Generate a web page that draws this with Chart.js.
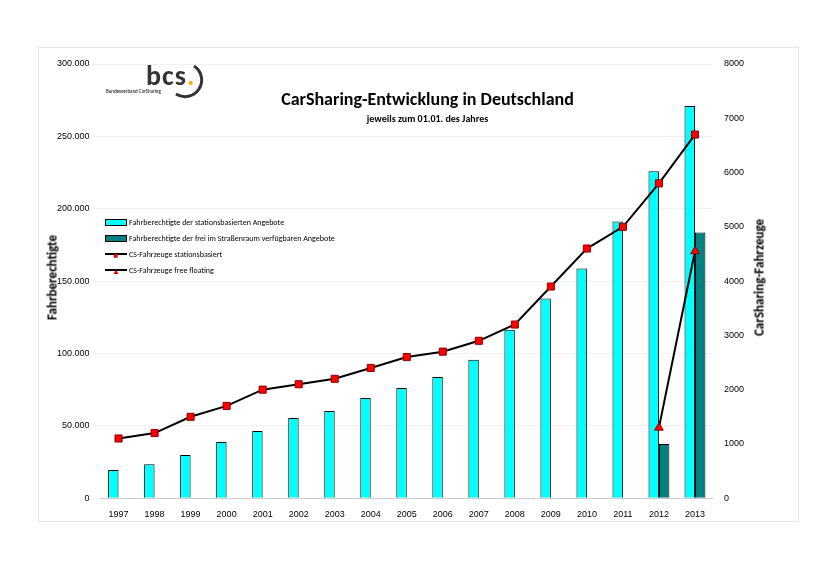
<!DOCTYPE html>
<html>
<head>
<meta charset="utf-8">
<script src="https://cdn.jsdelivr.net/npm/chart.js@4"></script>
<style>
body { margin: 0; background: #fff; font-family: Calibri, Carlito, "Liberation Sans", sans-serif; }
#frame { position: absolute; left: 38px; top: 47px; width: 759px; height: 473px; border: 1px solid #e6e6e6; }
#wrap { position: absolute; left: 40px; top: 50px; width: 760px; height: 473px; }
#title { position: absolute; left: 240px; top: 88px; width: 375px; text-align: center; font-size: 18px; font-weight: bold; }
#sub { position: absolute; left: 240px; top: 112px; width: 375px; text-align: center; font-size: 10px; font-weight: bold; }
#logo { position: absolute; left: 106px; top: 62px; }
#logo .b { font-size: 28px; font-weight: bold; color: #333; position: absolute; left: 40px; top: -4px; letter-spacing: 1px; }
#logo .s { font-size: 5px; position: absolute; left: 0; top: 26px; white-space: nowrap; }
#legend { position: absolute; left: 105px; top: 214px; font-size: 8px; }
#legend div { height: 16px; display: flex; align-items: center; }
.sw { width: 20px; height: 5px; border: 1px solid #000; margin-right: 2px; }
.yt { position: absolute; width: 200px; text-align: center; font-size: 13px; font-weight: bold; transform: rotate(-90deg); }
</style>
</head>
<body>
<div id="frame"></div>
<div id="wrap"><canvas id="c"></canvas></div>
<div class="yt" style="left:-48px;top:270px">Fahrberechtigte</div>
<div class="yt" style="left:659px;top:270px">CarSharing-Fahrzeuge</div>
<div id="logo">
  <span class="b">bcs<span style="color:#f0b400">.</span></span>
  <span class="s">Bundesverband CarSharing</span>
  <svg width="110" height="40" style="position:absolute;left:0;top:0"><path d="M 88 4 A 16 16 0 1 1 70 32" fill="none" stroke="#333" stroke-width="3"/></svg>
</div>
<div id="title">CarSharing-Entwicklung in Deutschland</div>
<div id="sub">jeweils zum 01.01. des Jahres</div>
<div id="legend">
  <div><span class="sw" style="background:#00ffff"></span>Fahrberechtigte der stationsbasierten Angebote</div>
  <div><span class="sw" style="background:#008080"></span>Fahrberechtigte der frei im Straßenraum verfügbaren Angebote</div>
  <div><span style="width:22px;text-align:center;color:#d00;margin-right:2px;border-top:2px solid #000;line-height:0">■</span>CS-Fahrzeuge stationsbasiert</div>
  <div><span style="width:22px;text-align:center;color:#d00;margin-right:2px;border-top:2px solid #000;line-height:0">▲</span>CS-Fahrzeuge free floating</div>
</div>
<script>
const jahre = ['1997','1998','1999','2000','2001','2002','2003','2004','2005','2006','2007','2008','2009','2010','2011','2012','2013'];
const fahrberechtigteStation = [19400, 23500, 29800, 38800, 46400, 55400, 60300, 69300, 76200, 83800, 95600, 116400, 137900, 158700, 191200, 225900, 270900];
const fahrberechtigteFree = [null, null, null, null, null, null, null, null, null, null, null, null, null, null, null, 37400, 183600];
const fahrzeugeStation = [1100, 1200, 1500, 1700, 2000, 2100, 2200, 2400, 2600, 2700, 2900, 3200, 3900, 4600, 5000, 5800, 6700];
const fahrzeugeFree = [null, null, null, null, null, null, null, null, null, null, null, null, null, null, null, 1300, 4550];

new Chart(document.getElementById('c'), {
    type: 'bar',
    data: {
        labels: jahre,
        datasets: [
            { type: 'line', data: fahrzeugeStation, yAxisID: 'y2', borderColor: '#000', borderWidth: 2,
              pointStyle: 'rect', pointRadius: 5, pointBackgroundColor: '#f00', pointBorderColor: '#800', pointBorderWidth: 1, order: 0 },
            { type: 'line', data: fahrzeugeFree, yAxisID: 'y2', borderColor: '#000', borderWidth: 2,
              pointStyle: 'triangle', pointRadius: 5, pointBackgroundColor: '#f00', pointBorderColor: '#800', pointBorderWidth: 1, order: 0 },
            { data: fahrberechtigteStation, yAxisID: 'y', backgroundColor: '#00ffff', borderColor: '#000', borderWidth: 1, order: 1 },
            { data: fahrberechtigteFree, yAxisID: 'y', backgroundColor: '#008080', borderColor: '#000', borderWidth: 1, order: 1 }
        ]
    },
    options: {
        responsive: true,
        maintainAspectRatio: false,
        animation: false,
        layout: { padding: { top: 14, left: 14, right: 53, bottom: 0 } },
        plugins: { legend: { display: false }, tooltip: { enabled: false } },
        datasets: { bar: { categoryPercentage: 0.58, barPercentage: 1 } },
        scales: {
            x: {
                grid: { display: false },
                border: { color: '#ccc' },
                ticks: { color: '#000', font: { size: 9 } }
            },
            y: {
                min: 0, max: 300000,
                ticks: { stepSize: 50000, color: '#000', font: { size: 9 },
                         callback: v => v === 0 ? '0' : v.toLocaleString('de-DE') },
                grid: { color: '#f0f0f0' },
                border: { display: false }
            },
            y2: {
                position: 'right', min: 0, max: 8000,
                ticks: { stepSize: 1000, color: '#000', font: { size: 9 }, callback: v => String(v) },
                grid: { display: false },
                border: { display: false }
            }
        }
    }
});
</script>
</body>
</html>
